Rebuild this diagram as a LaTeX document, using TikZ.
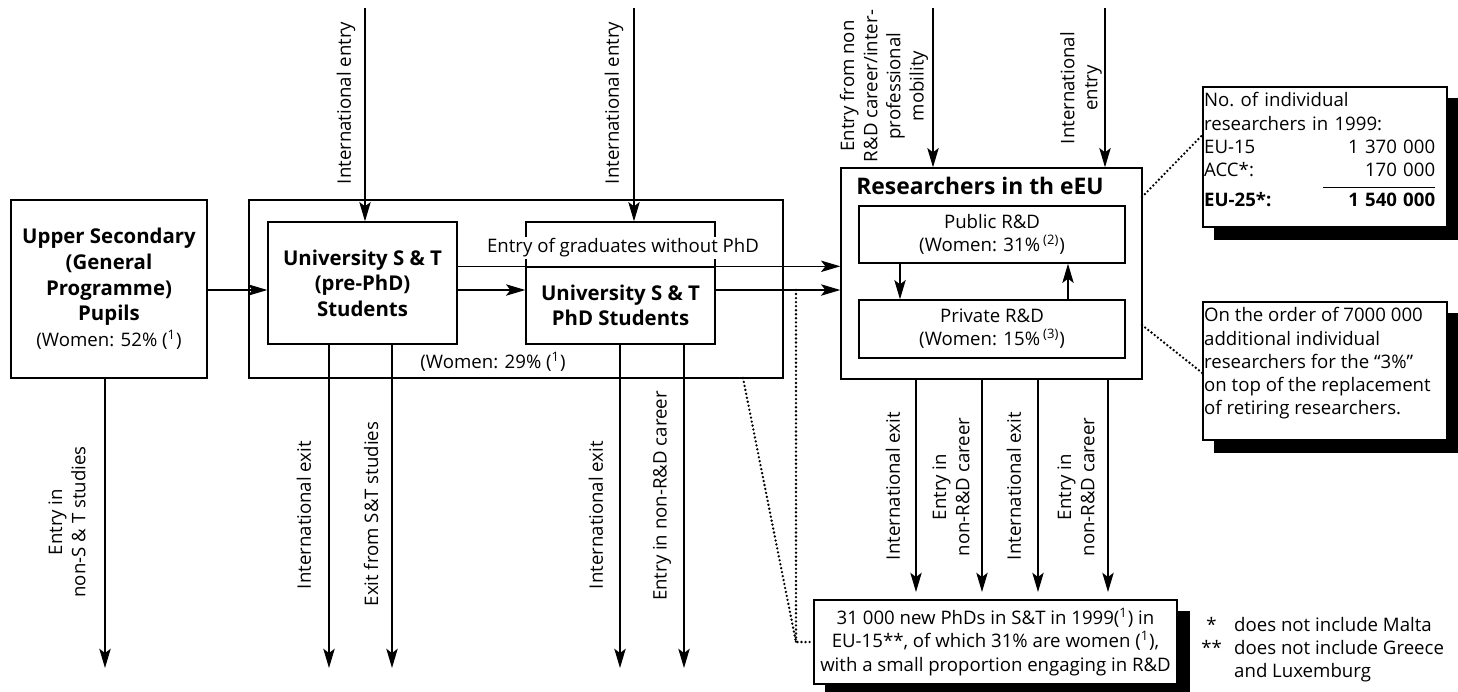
\documentclass[tikz,border=0pt]{standalone}
\usepackage{fontspec}
\setmainfont{Open Sans}
\usetikzlibrary{arrows.meta,backgrounds}

\newcommand{\bodyfont}{\fontsize{10.6}{13.2}\selectfont}
\newcommand{\titlefont}{\fontsize{11.6}{14.6}\selectfont\bfseries}

\tikzset{
  box/.style={draw, line width=0.8pt, inner sep=2pt},
  arr/.style={line width=0.75pt, -{Stealth[length=11pt, width=6.5pt, inset=2.5pt]}},
  lbl/.style={rotate=90, align=center, inner sep=0pt},
  note/.style={draw, line width=0.8pt, fill=white},
  dots/.style={line width=1.5pt, line cap=round, dash pattern=on 0pt off 2.3pt}
}

\begin{document}
\begin{tikzpicture}[x=0.02cm, y=-0.02cm, font=\bodyfont]
  \useasboundingbox (0,0) rectangle (1458,691);

  % Upper secondary pupils
  \node[box, minimum width=3.92cm, minimum height=3.56cm, align=center, font=\titlefont] (upper) at (109,289)
    {Upper Secondary\\ (General\\ Programme)\\ Pupils\\
     \mdseries\bodyfont (Women: 52\% (\textsuperscript{1})};

  % University S & T (outer box and its parts)
  \node[box, minimum width=10.68cm, minimum height=3.56cm] (uni) at (516,289) {};
  \node[box, minimum width=3.78cm, minimum height=2.44cm, align=center, font=\titlefont] (prephd) at (362.5,283)
    {University S \& T\\ (pre-PhD)\\ Students};
  \node[box, minimum width=3.78cm, minimum height=1.54cm, align=center, font=\titlefont] (phd) at (620.5,305.5)
    {University S \& T\\ PhD Students};
  \node (uniwomen) at (493,362) {(Women: 29\% (\textsuperscript{1})};

  % Bracket for graduates without PhD
  \node[box, minimum width=3.78cm, minimum height=0.9cm] (grad) at (620.5,244.5) {};
  \node[fill=white, inner sep=1pt] (gradtxt) at (623,248) {Entry of graduates without PhD};

  % Researchers in the EU
  \node[box, minimum width=6.02cm, minimum height=4.22cm] (res) at (991.5,273.5) {};
  \node[font=\titlefont\fontsize{13}{15}\selectfont] (restitle) at (980,186) {Researchers in th eEU};
  \node[box, minimum width=5.32cm, minimum height=1.14cm, align=center] (public) at (992,234.5)
    {Public R\&D\\ (Women: 31\%\,\textsuperscript{(2)})};
  \node[box, minimum width=5.32cm, minimum height=1.16cm, align=center] (private) at (992,329)
    {Private R\&D\\ (Women: 15\%\,\textsuperscript{(3)})};

  % Notes with shadows
  \node[note, minimum width=4.88cm, minimum height=2.8cm] (countbox) at (1325,157) {};
  \node[anchor=north west, text width=4.62cm, inner sep=0pt, align=left] (counttxt)
    at ([xshift=0.03cm, yshift=-0.12cm]countbox.north west)
    {No.\ of individual\\ researchers in 1999:\\ EU-15\hfill 1 370 000\\ ACC*:\hfill 170 000\\[4pt]
     \textbf{EU-25*:}\hfill\textbf{1 540 000}\smash{\makebox[0pt][r]{\raisebox{10.5pt}{\rule{2.24cm}{0.5pt}}}}};

  \node[note, minimum width=4.88cm, minimum height=2.76cm] (extrabox) at (1325,371) {};
  \node[anchor=north west, inner sep=0pt, align=left] (extratxt)
    at ([xshift=0.03cm, yshift=-0.12cm]extrabox.north west)
    {On the order of 7000 000\\ additional individual\\ researchers for the ``3\%''\\
     on top of the replacement\\ of retiring researchers.};

  \node[note, minimum width=7.26cm, minimum height=1.68cm, align=center] (phdnote) at (995.5,642)
    {31 000 new PhDs in S\&T in 1999(\textsuperscript{1}) in\\ EU-15**, of which 31\% are women (\textsuperscript{1}),\\
     with a small proportion engaging in R\&D};

  \begin{scope}[on background layer]
    \foreach \n in {countbox,extrabox,phdnote}
      \fill ([shift={(12,12)}]\n.north west) rectangle ([shift={(12,12)}]\n.south east);
  \end{scope}

  % Footnotes
  \node[anchor=north west, inner sep=0pt] (foot) at (1201,615)
    {\begin{tabular}{@{}c@{\hspace{7pt}}l@{}}
       * & does not include Malta\\
       {**} & does not include Greece\\
          & and Luxemburg
     \end{tabular}};

  % Flows along the chain
  \coordinate (mid) at (0,290);
  \draw[arr] (upper.east |- mid) -- (prephd.west |- mid);
  \draw[arr] (prephd.east |- mid) -- (phd.west |- mid);
  \draw[arr] (phd.east |- mid) -- (res.west |- mid);
  \draw[arr] (prephd.east |- phd.north) -- (res.west |- phd.north);
  \draw[arr] (public.south -| 900,0) -- (private.north -| 900,0);
  \draw[arr] (private.north -| 1068,0) -- (public.south -| 1068,0);

  % Entries from the top
  \coordinate (t1) at (365,8);
  \coordinate (t2) at (634,8);
  \coordinate (t3) at (933,8);
  \coordinate (t4) at (1105,8);
  \draw[arr] (t1) -- (t1 |- prephd.north);
  \draw[arr] (t2) -- (t2 |- grad.north);
  \draw[arr] (t3) -- (t3 |- res.north);
  \draw[arr] (t4) -- (t4 |- res.north);
  \node[lbl] (lt1) at (346,103) {International entry};
  \node[lbl] (lt2) at (614,103) {International entry};
  \node[lbl] (lt3) at (884,86) {Entry from non\\ R\&D career/inter-\\ professional\\ mobility};
  \node[lbl] (lt4) at (1081,88) {International\\ entry};

  % Exits to the bottom
  \coordinate (b0) at (105,668);
  \coordinate (b1) at (329,668);
  \coordinate (b2) at (392,668);
  \coordinate (b3) at (620,668);
  \coordinate (b4) at (684,668);
  \draw[arr] (b0 |- upper.south) -- (b0);
  \draw[arr] (b1 |- prephd.south) -- (b1);
  \draw[arr] (b2 |- prephd.south) -- (b2);
  \draw[arr] (b3 |- phd.south) -- (b3);
  \draw[arr] (b4 |- phd.south) -- (b4);
  \foreach \x [count=\i] in {916,982,1038,1108} {
    \coordinate (r\i) at (\x,592);
    \draw[arr] (r\i |- res.south) -- (r\i);
  }
  \node[lbl] (lb0) at (67,522) {Entry in\\ non-S \& T studies};
  \node[lbl] (lb1) at (304,515) {International exit};
  \node[lbl] (lb2) at (371,514) {Exit from S\&T studies};
  \node[lbl] (lb3) at (596,515) {International exit};
  \node[lbl] (lb4) at (662,496) {Entry in non-R\&D career};
  \node[lbl] (lr1) at (893,486) {International exit};
  \node[lbl] (lr2) at (951,487) {Entry in\\ non-R\&D career};
  \node[lbl] (lr3) at (1014,486) {International exit};
  \node[lbl] (lr4) at (1076,487) {Entry in\\ non-R\&D career};

  % Dotted callouts
  \coordinate (c1) at (1142,197);
  \coordinate (c2) at (1142,325);
  \coordinate (c3) at (743,378);
  \coordinate (c4) at (796,290);
  \coordinate (c5) at (796,642);
  \draw[dots] (c1) -- (countbox.west |- 0,135);
  \draw[dots] (c2) -- (extrabox.west |- 0,373);
  \draw[dots] (c3) -- (c5) -- (phdnote.west);
  \draw[dots] (c4) -- (c5);
\end{tikzpicture}
\end{document}
